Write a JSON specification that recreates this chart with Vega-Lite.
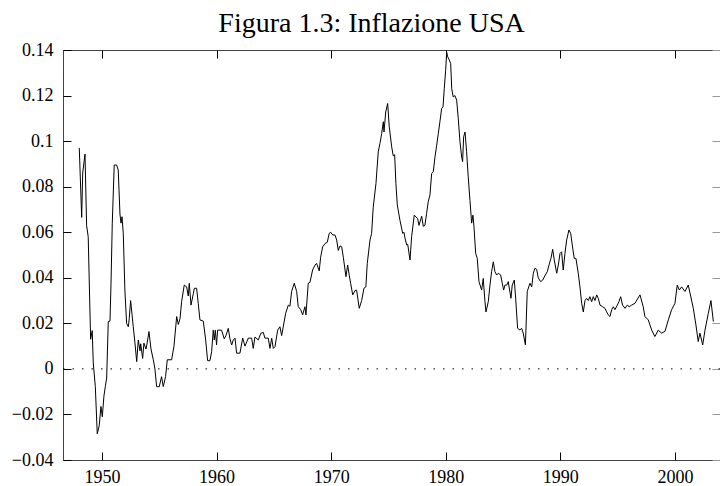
{
  "$schema": "https://vega.github.io/schema/vega-lite/v6.json",
  "width": 657,
  "height": 410,
  "autosize": "none",
  "padding": {"left": 63, "top": 50, "right": 0, "bottom": 26},
  "background": "white",
  "config": {
    "view": {"stroke": "#444", "strokeWidth": 1},
    "font": "Liberation Serif",
    "axis": {"domain": false, "grid": false, "title": null, "tickColor": "black", "tickSize": -8, "labelColor": "black", "labelFont": "Liberation Serif", "labelFontSize": 18}
  },
  "title": {"text": "Figura 1.3: Inflazione USA", "fontSize": 28, "font": "Liberation Serif", "fontWeight": "normal", "color": "black", "anchor": "middle", "dx": -20, "baseline": "alphabetic", "offset": -19},
  "datasets": {
    "infl": [
      {"anno": 1948.02, "inflazione": 0.097},
      {"anno": 1948.23, "inflazione": 0.0665},
      {"anno": 1948.32, "inflazione": 0.086},
      {"anno": 1948.52, "inflazione": 0.0943},
      {"anno": 1948.66, "inflazione": 0.063},
      {"anno": 1948.8, "inflazione": 0.058},
      {"anno": 1949.01, "inflazione": 0.013},
      {"anno": 1949.15, "inflazione": 0.0168},
      {"anno": 1949.24, "inflazione": 0.0026},
      {"anno": 1949.42, "inflazione": -0.0078},
      {"anno": 1949.59, "inflazione": -0.0285},
      {"anno": 1949.76, "inflazione": -0.025},
      {"anno": 1949.91, "inflazione": -0.0165},
      {"anno": 1950.03, "inflazione": -0.021},
      {"anno": 1950.17, "inflazione": -0.012},
      {"anno": 1950.29, "inflazione": -0.0078},
      {"anno": 1950.41, "inflazione": -0.004},
      {"anno": 1950.55, "inflazione": 0.0208},
      {"anno": 1950.7, "inflazione": 0.021},
      {"anno": 1950.79, "inflazione": 0.0376},
      {"anno": 1950.9, "inflazione": 0.064},
      {"anno": 1951.07, "inflazione": 0.0895},
      {"anno": 1951.28, "inflazione": 0.0895},
      {"anno": 1951.42, "inflazione": 0.0873},
      {"anno": 1951.57, "inflazione": 0.068},
      {"anno": 1951.66, "inflazione": 0.064},
      {"anno": 1951.75, "inflazione": 0.0668},
      {"anno": 1951.86, "inflazione": 0.0595},
      {"anno": 1952.0, "inflazione": 0.0346},
      {"anno": 1952.15, "inflazione": 0.02},
      {"anno": 1952.3, "inflazione": 0.0185},
      {"anno": 1952.38, "inflazione": 0.022},
      {"anno": 1952.5, "inflazione": 0.03},
      {"anno": 1952.73, "inflazione": 0.0185},
      {"anno": 1952.88, "inflazione": 0.0113},
      {"anno": 1953.03, "inflazione": 0.0032},
      {"anno": 1953.17, "inflazione": 0.0127},
      {"anno": 1953.32, "inflazione": 0.0079},
      {"anno": 1953.38, "inflazione": 0.011},
      {"anno": 1953.55, "inflazione": 0.0046},
      {"anno": 1953.66, "inflazione": 0.0113},
      {"anno": 1953.84, "inflazione": 0.0087},
      {"anno": 1953.95, "inflazione": 0.0115},
      {"anno": 1954.1, "inflazione": 0.0164},
      {"anno": 1954.28, "inflazione": 0.0087},
      {"anno": 1954.48, "inflazione": 0.004},
      {"anno": 1954.62, "inflazione": 0.0},
      {"anno": 1954.77, "inflazione": -0.0078},
      {"anno": 1955.0, "inflazione": -0.0078},
      {"anno": 1955.2, "inflazione": -0.0034},
      {"anno": 1955.35, "inflazione": -0.0078},
      {"anno": 1955.55, "inflazione": -0.0034},
      {"anno": 1955.7, "inflazione": 0.004},
      {"anno": 1956.08, "inflazione": 0.004},
      {"anno": 1956.28, "inflazione": 0.0098},
      {"anno": 1956.52, "inflazione": 0.023},
      {"anno": 1956.66, "inflazione": 0.0195},
      {"anno": 1956.81, "inflazione": 0.022},
      {"anno": 1956.95, "inflazione": 0.0295},
      {"anno": 1957.18, "inflazione": 0.0368},
      {"anno": 1957.39, "inflazione": 0.036},
      {"anno": 1957.53, "inflazione": 0.032},
      {"anno": 1957.62, "inflazione": 0.0376},
      {"anno": 1957.77, "inflazione": 0.028},
      {"anno": 1957.97, "inflazione": 0.033},
      {"anno": 1958.06, "inflazione": 0.0354},
      {"anno": 1958.26, "inflazione": 0.0354},
      {"anno": 1958.4, "inflazione": 0.0288},
      {"anno": 1958.55, "inflazione": 0.0215},
      {"anno": 1958.84, "inflazione": 0.021},
      {"anno": 1959.05, "inflazione": 0.0127},
      {"anno": 1959.22, "inflazione": 0.0036},
      {"anno": 1959.42, "inflazione": 0.0036},
      {"anno": 1959.57, "inflazione": 0.0076},
      {"anno": 1959.71, "inflazione": 0.017},
      {"anno": 1959.8, "inflazione": 0.0127},
      {"anno": 1959.89, "inflazione": 0.017},
      {"anno": 1960.0, "inflazione": 0.0105},
      {"anno": 1960.09, "inflazione": 0.017},
      {"anno": 1960.44, "inflazione": 0.017},
      {"anno": 1960.67, "inflazione": 0.0132},
      {"anno": 1960.82, "inflazione": 0.0146},
      {"anno": 1961.02, "inflazione": 0.0178},
      {"anno": 1961.17, "inflazione": 0.0132},
      {"anno": 1961.32, "inflazione": 0.0105},
      {"anno": 1961.46, "inflazione": 0.0127},
      {"anno": 1961.61, "inflazione": 0.0135},
      {"anno": 1961.75, "inflazione": 0.0069},
      {"anno": 1962.04, "inflazione": 0.0069},
      {"anno": 1962.28, "inflazione": 0.0135},
      {"anno": 1962.48, "inflazione": 0.01},
      {"anno": 1962.77, "inflazione": 0.0135},
      {"anno": 1963.06, "inflazione": 0.0135},
      {"anno": 1963.2, "inflazione": 0.009},
      {"anno": 1963.35, "inflazione": 0.014},
      {"anno": 1963.64, "inflazione": 0.0127},
      {"anno": 1963.87, "inflazione": 0.0157},
      {"anno": 1964.08, "inflazione": 0.016},
      {"anno": 1964.22, "inflazione": 0.0135},
      {"anno": 1964.51, "inflazione": 0.0135},
      {"anno": 1964.66, "inflazione": 0.009},
      {"anno": 1964.81, "inflazione": 0.0135},
      {"anno": 1964.95, "inflazione": 0.009},
      {"anno": 1965.1, "inflazione": 0.0098},
      {"anno": 1965.33, "inflazione": 0.017},
      {"anno": 1965.53, "inflazione": 0.0185},
      {"anno": 1965.68, "inflazione": 0.0146},
      {"anno": 1965.82, "inflazione": 0.0185},
      {"anno": 1966.03, "inflazione": 0.0244},
      {"anno": 1966.26, "inflazione": 0.028},
      {"anno": 1966.4, "inflazione": 0.0275},
      {"anno": 1966.55, "inflazione": 0.034},
      {"anno": 1966.78, "inflazione": 0.0376},
      {"anno": 1966.99, "inflazione": 0.034},
      {"anno": 1967.13, "inflazione": 0.0273},
      {"anno": 1967.34, "inflazione": 0.026},
      {"anno": 1967.51, "inflazione": 0.0237},
      {"anno": 1967.71, "inflazione": 0.0273},
      {"anno": 1967.8, "inflazione": 0.0237},
      {"anno": 1968.0, "inflazione": 0.0376},
      {"anno": 1968.15, "inflazione": 0.038},
      {"anno": 1968.38, "inflazione": 0.0434},
      {"anno": 1968.59, "inflazione": 0.0456},
      {"anno": 1968.73, "inflazione": 0.0463},
      {"anno": 1968.96, "inflazione": 0.043},
      {"anno": 1969.08, "inflazione": 0.049},
      {"anno": 1969.26, "inflazione": 0.0536},
      {"anno": 1969.46, "inflazione": 0.055},
      {"anno": 1969.66, "inflazione": 0.0556},
      {"anno": 1969.83, "inflazione": 0.0595},
      {"anno": 1969.96, "inflazione": 0.06},
      {"anno": 1970.13, "inflazione": 0.0588},
      {"anno": 1970.33, "inflazione": 0.0588},
      {"anno": 1970.48, "inflazione": 0.0566},
      {"anno": 1970.62, "inflazione": 0.052},
      {"anno": 1970.77, "inflazione": 0.054},
      {"anno": 1970.92, "inflazione": 0.0536},
      {"anno": 1971.06, "inflazione": 0.049},
      {"anno": 1971.29, "inflazione": 0.0405},
      {"anno": 1971.44, "inflazione": 0.0456},
      {"anno": 1971.58, "inflazione": 0.041},
      {"anno": 1971.7, "inflazione": 0.0376},
      {"anno": 1971.88, "inflazione": 0.0325},
      {"anno": 1972.08, "inflazione": 0.0344},
      {"anno": 1972.22, "inflazione": 0.0346},
      {"anno": 1972.45, "inflazione": 0.0266},
      {"anno": 1972.66, "inflazione": 0.03},
      {"anno": 1972.86, "inflazione": 0.0354},
      {"anno": 1973.03, "inflazione": 0.036},
      {"anno": 1973.15, "inflazione": 0.0463},
      {"anno": 1973.39, "inflazione": 0.0566},
      {"anno": 1973.53, "inflazione": 0.0595},
      {"anno": 1973.67, "inflazione": 0.071},
      {"anno": 1973.91, "inflazione": 0.0814},
      {"anno": 1974.11, "inflazione": 0.0953},
      {"anno": 1974.26, "inflazione": 0.099},
      {"anno": 1974.41, "inflazione": 0.1033},
      {"anno": 1974.55, "inflazione": 0.1085},
      {"anno": 1974.61, "inflazione": 0.104},
      {"anno": 1974.76, "inflazione": 0.1128},
      {"anno": 1974.93, "inflazione": 0.1165},
      {"anno": 1975.07, "inflazione": 0.1063},
      {"anno": 1975.28, "inflazione": 0.0975},
      {"anno": 1975.42, "inflazione": 0.0935},
      {"anno": 1975.54, "inflazione": 0.094},
      {"anno": 1975.65, "inflazione": 0.0814},
      {"anno": 1975.77, "inflazione": 0.072},
      {"anno": 1976.0, "inflazione": 0.0653},
      {"anno": 1976.24, "inflazione": 0.0595},
      {"anno": 1976.35, "inflazione": 0.06},
      {"anno": 1976.44, "inflazione": 0.0575},
      {"anno": 1976.59, "inflazione": 0.0544},
      {"anno": 1976.68, "inflazione": 0.0547},
      {"anno": 1976.88, "inflazione": 0.0478},
      {"anno": 1977.02, "inflazione": 0.058},
      {"anno": 1977.25, "inflazione": 0.0675},
      {"anno": 1977.4, "inflazione": 0.0667},
      {"anno": 1977.55, "inflazione": 0.066},
      {"anno": 1977.66, "inflazione": 0.063},
      {"anno": 1977.9, "inflazione": 0.067},
      {"anno": 1978.04, "inflazione": 0.0626},
      {"anno": 1978.18, "inflazione": 0.063},
      {"anno": 1978.33, "inflazione": 0.0683},
      {"anno": 1978.47, "inflazione": 0.0734},
      {"anno": 1978.62, "inflazione": 0.0763},
      {"anno": 1978.77, "inflazione": 0.0858},
      {"anno": 1978.91, "inflazione": 0.0865},
      {"anno": 1979.06, "inflazione": 0.0931},
      {"anno": 1979.21, "inflazione": 0.0982},
      {"anno": 1979.35, "inflazione": 0.1034},
      {"anno": 1979.49, "inflazione": 0.1085},
      {"anno": 1979.64, "inflazione": 0.1143},
      {"anno": 1979.76, "inflazione": 0.115},
      {"anno": 1979.87, "inflazione": 0.1231},
      {"anno": 1979.99, "inflazione": 0.1311},
      {"anno": 1980.08, "inflazione": 0.139},
      {"anno": 1980.17, "inflazione": 0.137},
      {"anno": 1980.28, "inflazione": 0.136},
      {"anno": 1980.43, "inflazione": 0.134},
      {"anno": 1980.52, "inflazione": 0.123},
      {"anno": 1980.65, "inflazione": 0.1194},
      {"anno": 1980.8, "inflazione": 0.12},
      {"anno": 1980.95, "inflazione": 0.118},
      {"anno": 1981.09, "inflazione": 0.11},
      {"anno": 1981.24, "inflazione": 0.0997},
      {"anno": 1981.39, "inflazione": 0.093},
      {"anno": 1981.47, "inflazione": 0.091},
      {"anno": 1981.56, "inflazione": 0.1019},
      {"anno": 1981.68, "inflazione": 0.104},
      {"anno": 1981.82, "inflazione": 0.0953},
      {"anno": 1981.96, "inflazione": 0.0843},
      {"anno": 1982.11, "inflazione": 0.074},
      {"anno": 1982.26, "inflazione": 0.064},
      {"anno": 1982.37, "inflazione": 0.0675},
      {"anno": 1982.46, "inflazione": 0.0625},
      {"anno": 1982.61, "inflazione": 0.0507},
      {"anno": 1982.75, "inflazione": 0.0485},
      {"anno": 1982.9, "inflazione": 0.0383},
      {"anno": 1983.13, "inflazione": 0.0346},
      {"anno": 1983.27, "inflazione": 0.0397},
      {"anno": 1983.42, "inflazione": 0.0295},
      {"anno": 1983.51, "inflazione": 0.025},
      {"anno": 1983.71, "inflazione": 0.0295},
      {"anno": 1983.86, "inflazione": 0.0368},
      {"anno": 1984.0, "inflazione": 0.0427},
      {"anno": 1984.15, "inflazione": 0.047},
      {"anno": 1984.29, "inflazione": 0.0427},
      {"anno": 1984.44, "inflazione": 0.0412},
      {"anno": 1984.58, "inflazione": 0.042},
      {"anno": 1984.79, "inflazione": 0.0412},
      {"anno": 1984.93, "inflazione": 0.0376},
      {"anno": 1985.05, "inflazione": 0.0346},
      {"anno": 1985.17, "inflazione": 0.0368},
      {"anno": 1985.32, "inflazione": 0.0368},
      {"anno": 1985.45, "inflazione": 0.0383},
      {"anno": 1985.69, "inflazione": 0.031},
      {"anno": 1985.8, "inflazione": 0.0368},
      {"anno": 1985.98, "inflazione": 0.039},
      {"anno": 1986.1, "inflazione": 0.031},
      {"anno": 1986.27, "inflazione": 0.0178},
      {"anno": 1986.47, "inflazione": 0.0171},
      {"anno": 1986.62, "inflazione": 0.0178},
      {"anno": 1986.76, "inflazione": 0.0157},
      {"anno": 1986.95, "inflazione": 0.0105},
      {"anno": 1987.11, "inflazione": 0.034},
      {"anno": 1987.35, "inflazione": 0.0376},
      {"anno": 1987.5, "inflazione": 0.036},
      {"anno": 1987.64, "inflazione": 0.042},
      {"anno": 1987.78, "inflazione": 0.0442},
      {"anno": 1987.93, "inflazione": 0.0437},
      {"anno": 1988.07, "inflazione": 0.04},
      {"anno": 1988.28, "inflazione": 0.0383},
      {"anno": 1988.46, "inflazione": 0.039},
      {"anno": 1988.66, "inflazione": 0.041},
      {"anno": 1988.86, "inflazione": 0.0427},
      {"anno": 1989.03, "inflazione": 0.046},
      {"anno": 1989.18, "inflazione": 0.0485},
      {"anno": 1989.33, "inflazione": 0.0525},
      {"anno": 1989.47, "inflazione": 0.0478},
      {"anno": 1989.68, "inflazione": 0.042},
      {"anno": 1989.82, "inflazione": 0.0456},
      {"anno": 1989.97, "inflazione": 0.0507},
      {"anno": 1990.11, "inflazione": 0.0514},
      {"anno": 1990.25, "inflazione": 0.0434},
      {"anno": 1990.4, "inflazione": 0.0507},
      {"anno": 1990.55, "inflazione": 0.0566},
      {"anno": 1990.75, "inflazione": 0.061},
      {"anno": 1990.9, "inflazione": 0.0595},
      {"anno": 1991.04, "inflazione": 0.0544},
      {"anno": 1991.21, "inflazione": 0.0485},
      {"anno": 1991.36, "inflazione": 0.0485},
      {"anno": 1991.56, "inflazione": 0.042},
      {"anno": 1991.71, "inflazione": 0.036},
      {"anno": 1991.86, "inflazione": 0.0288},
      {"anno": 1992.0, "inflazione": 0.025},
      {"anno": 1992.15, "inflazione": 0.03},
      {"anno": 1992.29, "inflazione": 0.031},
      {"anno": 1992.44, "inflazione": 0.03},
      {"anno": 1992.58, "inflazione": 0.0317},
      {"anno": 1992.73, "inflazione": 0.0295},
      {"anno": 1992.87, "inflazione": 0.0317},
      {"anno": 1993.02, "inflazione": 0.03},
      {"anno": 1993.17, "inflazione": 0.0325},
      {"anno": 1993.31, "inflazione": 0.031},
      {"anno": 1993.46, "inflazione": 0.028},
      {"anno": 1993.69, "inflazione": 0.0273},
      {"anno": 1993.89, "inflazione": 0.0266},
      {"anno": 1994.04, "inflazione": 0.025},
      {"anno": 1994.18, "inflazione": 0.0237},
      {"anno": 1994.33, "inflazione": 0.023},
      {"anno": 1994.48, "inflazione": 0.026},
      {"anno": 1994.62, "inflazione": 0.0273},
      {"anno": 1994.76, "inflazione": 0.026},
      {"anno": 1994.97, "inflazione": 0.028},
      {"anno": 1995.11, "inflazione": 0.0295},
      {"anno": 1995.26, "inflazione": 0.0317},
      {"anno": 1995.43, "inflazione": 0.028},
      {"anno": 1995.64, "inflazione": 0.0266},
      {"anno": 1995.84, "inflazione": 0.028},
      {"anno": 1996.01, "inflazione": 0.0273},
      {"anno": 1996.22, "inflazione": 0.028},
      {"anno": 1996.51, "inflazione": 0.0288},
      {"anno": 1996.95, "inflazione": 0.0325},
      {"anno": 1997.23, "inflazione": 0.0273},
      {"anno": 1997.38, "inflazione": 0.023},
      {"anno": 1997.67, "inflazione": 0.0215},
      {"anno": 1997.97, "inflazione": 0.017},
      {"anno": 1998.25, "inflazione": 0.0142},
      {"anno": 1998.54, "inflazione": 0.017},
      {"anno": 1998.84, "inflazione": 0.0157},
      {"anno": 1999.13, "inflazione": 0.0165},
      {"anno": 1999.42, "inflazione": 0.0215},
      {"anno": 1999.71, "inflazione": 0.026},
      {"anno": 2000.0, "inflazione": 0.0288},
      {"anno": 2000.2, "inflazione": 0.0368},
      {"anno": 2000.38, "inflazione": 0.0346},
      {"anno": 2000.58, "inflazione": 0.036},
      {"anno": 2000.87, "inflazione": 0.034},
      {"anno": 2001.16, "inflazione": 0.0368},
      {"anno": 2001.37, "inflazione": 0.032},
      {"anno": 2001.6, "inflazione": 0.0266},
      {"anno": 2001.83, "inflazione": 0.0193},
      {"anno": 2002.03, "inflazione": 0.012},
      {"anno": 2002.18, "inflazione": 0.0157},
      {"anno": 2002.42, "inflazione": 0.0105},
      {"anno": 2002.62, "inflazione": 0.017},
      {"anno": 2002.91, "inflazione": 0.0244},
      {"anno": 2003.14, "inflazione": 0.03},
      {"anno": 2003.35, "inflazione": 0.0208}
    ]
  },
  "layer": [
    {
      "data": {"name": "infl"},
      "mark": {"type": "line", "color": "black", "strokeWidth": 1},
      "encoding": {
        "x": {"field": "anno", "type": "quantitative", "scale": {"domain": [1946.6, 2003.93], "nice": false, "zero": false},
              "axis": {"orient": "bottom", "values": [1950, 1960, 1970, 1980, 1990, 2000], "format": "d", "labelPadding": 16}},
        "y": {"field": "inflazione", "type": "quantitative", "scale": {"domain": [-0.04, 0.14], "nice": false, "zero": false},
              "axis": {"orient": "left", "values": [-0.04, -0.02, 0, 0.02, 0.04, 0.06, 0.08, 0.1, 0.12, 0.14], "format": ".2~f", "labelPadding": 18}}
      }
    },
    {
      "data": {"values": [{}]},
      "mark": {"type": "rule", "color": "black", "strokeWidth": 1, "strokeDash": [1.5, 8]},
      "encoding": {
        "y": {"datum": 0, "type": "quantitative", "axis": {"orient": "right", "values": [-0.04, -0.02, 0, 0.02, 0.04, 0.06, 0.08, 0.1, 0.12, 0.14], "labels": false, "tickColor": "#999"}}
      }
    },
    {
      "data": {"name": "infl"},
      "mark": {"type": "line", "opacity": 0},
      "encoding": {
        "x": {"field": "anno", "type": "quantitative", "axis": {"orient": "top", "values": [1950, 1960, 1970, 1980, 1990, 2000], "labels": false}},
        "y": {"field": "inflazione", "type": "quantitative", "axis": null}
      }
    }
  ],
  "resolve": {"axis": {"x": "independent", "y": "independent"}}
}
